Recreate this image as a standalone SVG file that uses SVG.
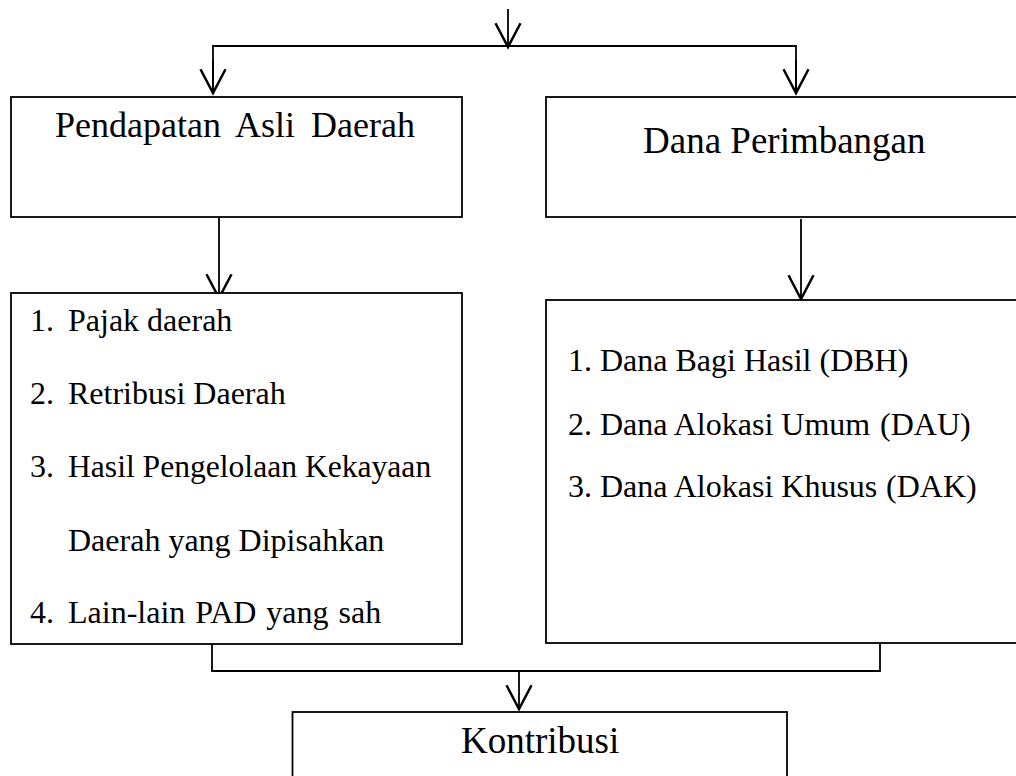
<svg xmlns="http://www.w3.org/2000/svg" width="1016" height="776" viewBox="0 0 1016 776">
<style>
.box{fill:#fff;stroke:#000;stroke-width:1.8}
.ln{fill:none;stroke:#000;stroke-width:1.8}
.t36{font-family:"Liberation Serif","Times New Roman",serif;font-size:36px;fill:#000}
.t32{font-family:"Liberation Serif","Times New Roman",serif;font-size:32px;fill:#000}
</style>
<defs>
<marker id="v" markerUnits="userSpaceOnUse" markerWidth="30" markerHeight="30" refX="0" refY="0" viewBox="-22 -12 24 24" orient="auto" overflow="visible">
<path d="M-19,-10 L0,0 L-19,10" fill="none" stroke="#000" stroke-width="2"/>
</marker>
</defs>
<rect width="1016" height="776" fill="#fff"/>
<g id="connectors">
<line class="ln" x1="508" y1="9" x2="508" y2="47" marker-end="url(#v)"/>
<polyline class="ln" points="213,93 213,46 796,46 796,93"/>
<line class="ln" x1="213" y1="60" x2="213" y2="93" marker-end="url(#v)"/>
<line class="ln" x1="796" y1="60" x2="796" y2="93" marker-end="url(#v)"/>
<line class="ln" x1="219" y1="217" x2="219" y2="298" marker-end="url(#v)"/>
<line class="ln" x1="801" y1="219" x2="801" y2="299" marker-end="url(#v)"/>
<polyline class="ln" points="212,644 212,671 880,671 880,644"/>
<line class="ln" x1="519" y1="671" x2="519" y2="709" marker-end="url(#v)"/>
</g>
<g id="pad">
<rect class="box" x="11" y="97" width="451" height="120"/>
<text class="t36" x="55" y="137" word-spacing="7">Pendapatan Asli Daerah</text>
</g>
<g id="dana-perimbangan">
<rect class="box" x="546" y="97" width="480" height="120"/>
<text class="t36" x="643" y="153" style="font-size:37px">Dana Perimbangan</text>
</g>
<g id="pad-list">
<rect class="box" x="11" y="293" width="451" height="351"/>
<text class="t32" x="30" y="331">1.</text>
<text class="t32" x="68" y="331">Pajak daerah</text>
<text class="t32" x="30" y="404">2.</text>
<text class="t32" x="68" y="404">Retribusi Daerah</text>
<text class="t32" x="30" y="477">3.</text>
<text class="t32" x="68" y="477" style="font-size:31.6px">Hasil Pengelolaan Kekayaan</text>
<text class="t32" x="68" y="551">Daerah yang Dipisahkan</text>
<text class="t32" x="30" y="623">4.</text>
<text class="t32" x="68" y="623" word-spacing="2">Lain-lain PAD yang sah</text>
</g>
<g id="dana-list">
<rect class="box" x="546" y="300" width="480" height="343"/>
<text class="t32" x="568" y="371">1. Dana Bagi Hasil (DBH)</text>
<text class="t32" x="568" y="435">2. Dana Alokasi Umum<tspan x="880">(DAU)</tspan></text>
<text class="t32" x="568" y="497">3. Dana Alokasi Khusus<tspan x="886">(DAK)</tspan></text>
</g>
<g id="kontribusi">
<rect class="box" x="292.5" y="712" width="494.5" height="80"/>
<text class="t36" x="461" y="753" style="font-size:37px">Kontribusi</text>
</g>
</svg>
